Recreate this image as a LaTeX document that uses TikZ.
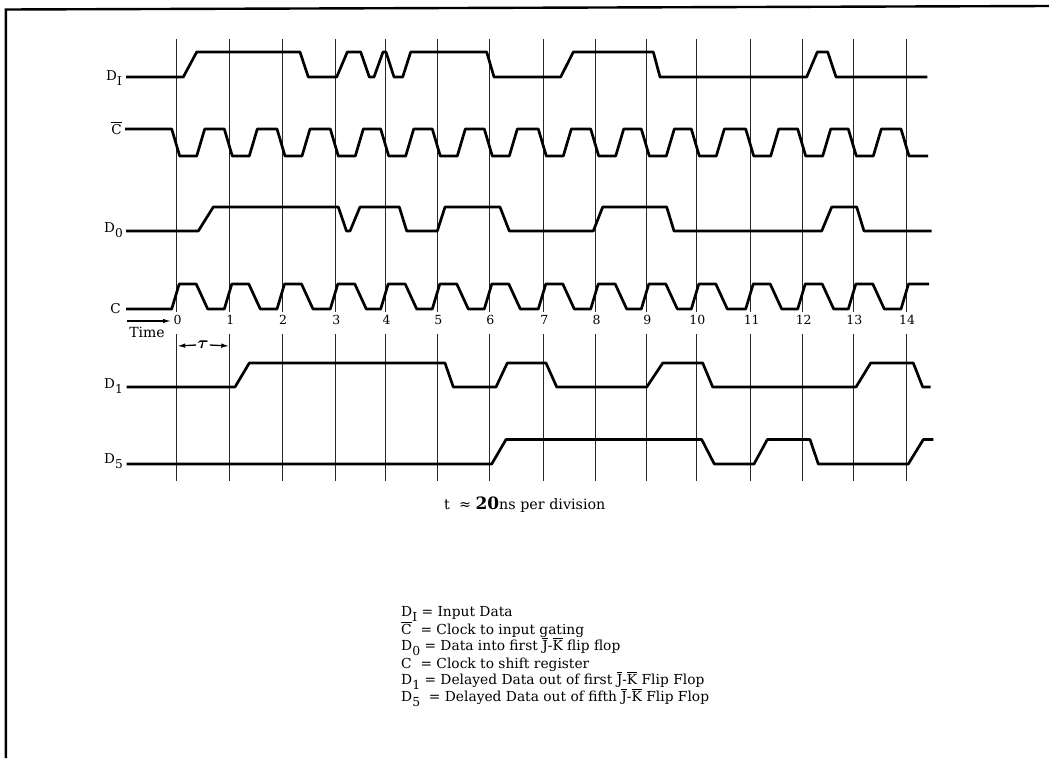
\documentclass[tikz,border=0pt]{standalone}
\usepackage{fontspec}
\setmainfont{DejaVu Serif}
\usepackage{amsmath}
\usetikzlibrary{arrows.meta}
\newcommand\lsub[1]{\raisebox{-0.75ex}{\scalebox{0.9}{#1}}}
\newcommand\cbar{$\overline{\mbox{C}}$}
\newcommand\jk{$\overline{\mbox{J}}$-$\overline{\mbox{K}}$}
\begin{document}
\begin{tikzpicture}[x=1pt,y=-1pt,
  sig/.style={line width=2.7pt, line join=round},
  gridline/.style={line width=0.8pt, black!85},
  frameline/.style={line width=2.4pt},
  lab/.style={font=\fontsize{13.5}{15}\selectfont, anchor=base east, inner sep=0pt},
  num/.style={font=\fontsize{12.5}{14}\selectfont, inner sep=0.5pt, fill=white},
  leg/.style={font=\fontsize{13.8}{16}\selectfont, anchor=base west, inner sep=0pt},
  dimarrow/.style={line width=1.3pt, -{Latex[length=8pt,width=4.5pt]}}]
\useasboundingbox (0,0) rectangle (1049,758);
\fill[white] (0,0) rectangle (1049,758);
% frame
\draw[frameline] (5.8,758) -- (5.8,9.5) -- (1049,6);
% grid
\foreach \x [count=\i from 0] in {176.7,229.3,282,335.3,385.7,437.3,489.3,543.3,595.7,646.3,696.3,750.7,802.7,853.3,906} {
  \draw[gridline] (\x,39) -- (\x,312);
  \draw[gridline] (\x,334) -- (\x,481);
  \node[num] (n\i) at ({\x+1},320) {\i};
}
% labels
\node[lab] (lDI) at (122,80) {D\lsub{I}};
\node[lab] (lCb) at (122,134) {\cbar};
\node[lab] (lD0) at (123,232) {D\lsub{0}};
\node[lab] (lC) at (121,313.5) {C};
\node[lab] (lD1) at (123,388) {D\lsub{1}};
\node[lab] (lD5) at (123,463.5) {D\lsub{5}};
% D_I
\draw[sig] (126,77) -- (183.3,77) -- (196.7,52) -- (300,52) -- (308.3,77) -- (336.7,77) -- (347.3,52) -- (360.7,52) -- (369.3,77) -- (374,77) -- (383,52) -- (386,52) -- (394,77) -- (402.7,77) -- (410.7,52) -- (486.7,52) -- (494,77) -- (560.7,77) -- (573.3,52) -- (653.3,52) -- (660,77) -- (806.7,77) -- (817.3,52) -- (827.7,52) -- (836,77) -- (927.3,77);
% C bar
\draw[sig] (125,129) foreach \x in {176.7,229.3,282,335.3,385.7,437.3,489.3,543.3,595.7,646.3,696.3,750.7,802.7,853.3} { -- ({\x-5},129) -- ({\x+3},156) -- ({\x+20},156) -- ({\x+28},129) } -- (901,129) -- (909,156) -- (928,156);
% D_0
\draw[sig] (126,231) -- (198.3,231) -- (213.3,207) -- (338.3,207) -- (346.5,231) -- (350,231) -- (360,207) -- (399.3,207) -- (406.7,231) -- (437.3,231) -- (445,207) -- (500,207) -- (509.3,231) -- (593.3,231) -- (602.7,207) -- (666.7,207) -- (674,231) -- (821.7,231) -- (831.7,207) -- (856.7,207) -- (864,231) -- (931.7,231);
% C
\draw[sig] (126,309) foreach \x in {176.7,229.3,282,335.3,385.7,437.3,489.3,543.3,595.7,646.3,696.3,750.7,802.7,853.3} { -- ({\x-5},309) -- ({\x+2.5},284) -- ({\x+19.5},284) -- ({\x+31},309) } -- (901,309) -- (908.5,284) -- (929,284);
% D_1
\draw[sig] (126.7,387) -- (235,387) -- (249.3,363) -- (445,363) -- (453.3,387) -- (496,387) -- (507.3,363) -- (546,363) -- (556.7,387) -- (646.7,387) -- (662.7,363) -- (702.7,363) -- (712.7,387) -- (856,387) -- (870.7,363) -- (913.3,363) -- (922.7,387) -- (930.7,387);
% D_5
\draw[sig] (126.7,464) -- (491.7,464) -- (506,439.5) -- (701.7,439.5) -- (714.3,464) -- (754,464) -- (767.3,439.5) -- (810,439.5) -- (818.3,464) -- (908.3,464) -- (923.3,439.5) -- (933.3,439.5);
% time arrow
\coordinate (ts) at (127,321);
\coordinate (te) at (171,321);
\draw[dimarrow] (ts) -- (te);
\node[font=\fontsize{14}{15}\selectfont, inner sep=0pt] (time) at (147,332) {Time};
% tau
\coordinate (g0) at (177.2,346);
\coordinate (g1) at (229.3,346);
\node[inner sep=1pt, font=\fontsize{17}{18}\selectfont] (tau) at (203,345) {$\boldsymbol{\tau}$};
\draw[dimarrow] (tau.west) -- (g0);
\draw[dimarrow] (tau.east) -- (g1);
% scale note
\node[font=\fontsize{14.3}{16}\selectfont, anchor=base west, inner sep=0pt] (scale) at (444,509.5) {t \ ≈ \textbf{\fontsize{17}{17}\selectfont 20}ns per division};
% legend
\node[leg] (k1) at (401,616) {D\lsub{I} = Input Data};
\node[leg] (k2) at (401,634.5) {\cbar\ \ = Clock to input gating};
\node[leg] (k3) at (401,650) {D\lsub{0} = Data into first \jk\ flip flop};
\node[leg] (k4) at (401,668.5) {C\ \ = Clock to shift register};
\node[leg] (k5) at (401,684) {D\lsub{1} = Delayed Data out of first \jk\ Flip Flop};
\node[leg] (k6) at (401,701.5) {D\lsub{5} \ = Delayed Data out of fifth \jk\ Flip Flop};
\end{tikzpicture}
\end{document}
